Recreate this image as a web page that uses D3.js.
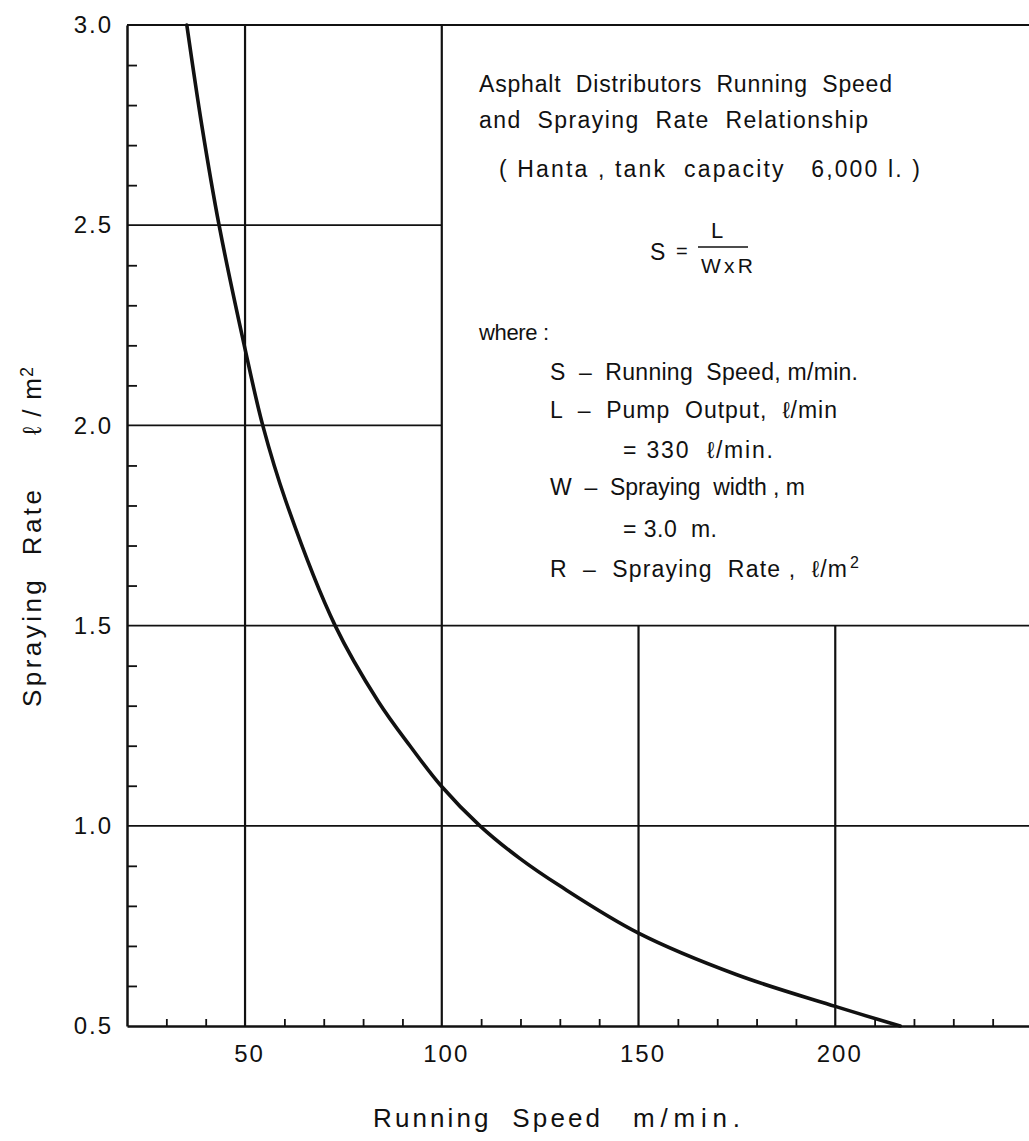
<!DOCTYPE html>
<html>
<head>
<meta charset="utf-8">
<script src="https://cdn.jsdelivr.net/npm/d3@7"></script>
<style>
  body { margin: 0; background: #fff; }
  svg text { font-family: "Liberation Sans", Arial, sans-serif; fill: #111; white-space: pre; }
</style>
</head>
<body>
<div id="chart"></div>
<script>
// curve (speed m/min, rate l/m2)
const speeds = [35.2, 39.0, 43.4, 49.8, 54.5, 60.4, 72.9, 83.9, 91.9, 99.8, 109.7, 119.9, 130, 150, 175, 200, 216.5];
const rates = [3.0, 2.75, 2.5, 2.2, 2.0, 1.81, 1.5, 1.31, 1.2, 1.1, 1.0, 0.918, 0.85, 0.732, 0.628, 0.549, 0.5];

const speedTicks = [50, 100, 150, 200];
const speedMinor = [30, 40, 60, 70, 80, 90, 110, 120, 130, 140, 160, 170, 180, 190, 210, 220, 230, 240];
const rateTicks = [0.5, 1.0, 1.5, 2.0, 2.5, 3.0];
const rateLabels = ["0.5", "1.0", "1.5", "2.0", "2.5", "3.0"];
const rateMinor = [0.6, 0.7, 0.8, 0.9, 1.1, 1.2, 1.3, 1.4, 1.6, 1.7, 1.8, 1.9, 2.1, 2.2, 2.3, 2.4, 2.6, 2.7, 2.8, 2.9];

// the note panel sits in the upper right, no grid inside it
const boxSpeed = 100;
const boxRate = 1.5;

const width = 1029;
const height = 1141;

const svg = d3
  .select("#chart")
  .append("svg")
  .attr("width", width)
  .attr("height", height);

svg.append("rect").attr("width", width).attr("height", height).attr("fill", "#fff");

const x = d3.scaleLinear().domain([20, 250]).range([127, 1032]);
const y = d3.scaleLinear().domain([0.5, 3.0]).range([1026, 25]);

// grid
const grid = svg.append("g").attr("stroke", "#111").attr("fill", "none");

grid
  .selectAll("line.h")
  .data(rateTicks.filter((r) => r > 0.5))
  .enter()
  .append("line")
  .attr("class", "h")
  .attr("x1", x(20))
  .attr("x2", (d) => (d > boxRate && d < 3.0 ? x(boxSpeed) : x(250)))
  .attr("y1", (d) => y(d))
  .attr("y2", (d) => y(d))
  .attr("stroke-width", 1.8);

grid
  .selectAll("line.v")
  .data(speedTicks)
  .enter()
  .append("line")
  .attr("class", "v")
  .attr("x1", (d) => x(d))
  .attr("x2", (d) => x(d))
  .attr("y1", (d) => (d > boxSpeed ? y(boxRate) : y(3.0)))
  .attr("y2", y(0.5))
  .attr("stroke-width", 2.2);

// axes with inward minor ticks
const bottom = svg
  .append("g")
  .attr("transform", `translate(0,${y(0.5)})`)
  .call(d3.axisBottom(x).tickValues(speedMinor).tickSize(-7).tickSizeOuter(0).tickFormat(""));
bottom.select(".domain").attr("stroke", "#111").attr("stroke-width", 2.5);
bottom.selectAll(".tick line").attr("stroke", "#111").attr("stroke-width", 1.8);

const left = svg
  .append("g")
  .attr("transform", `translate(${x(20)},0)`)
  .call(d3.axisLeft(y).tickValues(rateMinor).tickSize(-10).tickSizeOuter(0).tickFormat(""));
left.select(".domain").attr("stroke", "#111").attr("stroke-width", 2.5);
left.selectAll(".tick line").attr("stroke", "#111").attr("stroke-width", 1.8);

const xLab = svg
  .append("g")
  .attr("transform", `translate(0,${y(0.5)})`)
  .call(d3.axisBottom(x).tickValues(speedTicks).tickSize(0).tickPadding(19));
xLab.select(".domain").remove();
xLab
  .selectAll("text")
  .attr("font-family", null)
  .style("font-size", "24px")
  .style("letter-spacing", "2px")
  .attr("dx", "4");

const yLab = svg
  .append("g")
  .attr("transform", `translate(${x(20)},0)`)
  .call(
    d3
      .axisLeft(y)
      .tickValues(rateTicks)
      .tickSize(0)
      .tickPadding(14)
      .tickFormat((d, i) => rateLabels[i])
  );
yLab.select(".domain").remove();
yLab
  .selectAll("text")
  .attr("font-family", null)
  .style("font-size", "24px")
  .style("letter-spacing", "2px");

// curve
const line = d3
  .line()
  .x((d) => x(d[0]))
  .y((d) => y(d[1]))
  .curve(d3.curveCatmullRom.alpha(0.5));

svg
  .append("path")
  .datum(speeds.map((s, i) => [s, rates[i]]))
  .attr("d", line)
  .attr("fill", "none")
  .attr("stroke", "#111")
  .attr("stroke-width", 3.6)
  .attr("stroke-linecap", "round");

// text helper: stretch letter spacing to the drawn width
function label(str, px, py, w, size, anchor) {
  const t = svg
    .append("text")
    .attr("x", px)
    .attr("y", py)
    .style("font-size", size + "px")
    .attr("text-anchor", anchor || "start")
    .text(str);
  if (w) t.attr("textLength", w).attr("lengthAdjust", "spacing");
  return t;
}

// note panel
label("Asphalt  Distributors  Running  Speed", 479, 92, 413, 23);
label("and  Spraying  Rate  Relationship", 479, 128, 389, 23);
label("( Hanta , tank  capacity   6,000 l. )", 499, 177, 421, 23);

label("S", 650, 260, null, 23);
label("=", 676, 258, null, 20);
label("L", 717, 238, null, 22, "middle");
svg.append("line").attr("x1", 698).attr("x2", 748).attr("y1", 247).attr("y2", 247).attr("stroke", "#111").attr("stroke-width", 1.6);
label("W x R", 701, 273, 52, 21);

label("where :", 479, 340, 70, 22);
label("S  –  Running  Speed, m/min.", 550, 380, 308, 23);
label("L  –  Pump  Output,  \u2113/min", 550, 418, 287, 23);
label("= 330  \u2113/min.", 623, 458, 150, 23);
label("W  –  Spraying  width , m", 550, 495, 255, 23);
label("= 3.0  m.", 623, 537, 94, 23);
label("R  –  Spraying  Rate ,  \u2113/m", 550, 577, 297, 23);
label("2", 850, 568, null, 16);

// axis titles
label("Running  Speed", 373, 1127, 227, 26);
label("m/min.", 633, 1127, 107, 26);

svg
  .append("text")
  .attr("transform", "translate(41,707) rotate(-90)")
  .style("font-size", "26px")
  .attr("textLength", 217)
  .attr("lengthAdjust", "spacing")
  .text("Spraying  Rate");
svg
  .append("text")
  .attr("transform", "translate(41,435) rotate(-90)")
  .style("font-size", "26px")
  .attr("textLength", 57)
  .attr("lengthAdjust", "spacing")
  .text("\u2113/m");
svg
  .append("text")
  .attr("transform", "translate(33,377) rotate(-90)")
  .style("font-size", "18px")
  .text("2");
</script>
</body>
</html>
